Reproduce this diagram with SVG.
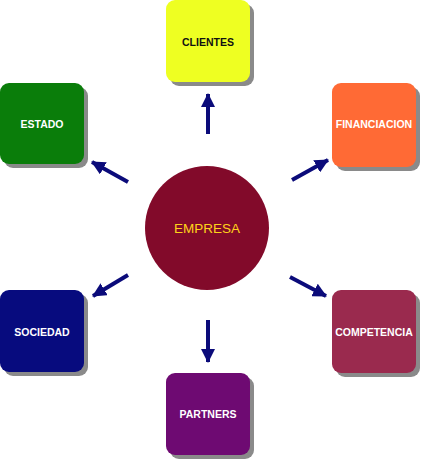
<svg xmlns="http://www.w3.org/2000/svg" width="421" height="460" viewBox="0 0 421 460">
<style>
.shadow{fill:#8a8a8a}
.lbl{font-family:"Liberation Sans",Arial,sans-serif;font-weight:bold;font-size:10.5px;text-anchor:middle;dominant-baseline:central;fill:#ffffff}
.conn line{stroke:#0b0b7a;stroke-width:4;marker-end:url(#ah)}
</style>
<defs>
<marker id="ah" markerUnits="userSpaceOnUse" markerWidth="14" markerHeight="14" refX="13" refY="7" orient="auto">
<path d="M0,0 L14,7 L0,14 Z" fill="#0b0b7a"/>
</marker>
</defs>
<rect width="421" height="460" fill="#ffffff"/>
<g id="clientes">
<rect class="shadow" x="170" y="4" width="84" height="82" rx="9"/>
<rect x="166" y="0" width="84" height="82" rx="9" fill="#eeff22"/>
<text class="lbl" x="208" y="42" fill="#111111" style="fill:#111111">CLIENTES</text>
</g>
<g id="estado">
<rect class="shadow" x="4" y="87" width="84" height="81" rx="9"/>
<rect x="0" y="83" width="84" height="81" rx="9" fill="#0a7d0a"/>
<text class="lbl" x="42" y="124">ESTADO</text>
</g>
<g id="financiacion">
<rect class="shadow" x="336" y="87" width="84" height="84" rx="9"/>
<rect x="332" y="83" width="84" height="84" rx="9" fill="#ff6a35"/>
<text class="lbl" x="374" y="124">FINANCIACION</text>
</g>
<g id="empresa">
<circle cx="207" cy="228" r="62" fill="#820a2a"/>
<text x="207" y="228" font-family="Liberation Sans,Arial,sans-serif" font-size="13.5" text-anchor="middle" dominant-baseline="central" fill="#ffd21a">EMPRESA</text>
</g>
<g id="sociedad">
<rect class="shadow" x="4" y="294" width="84" height="82" rx="9"/>
<rect x="0" y="290" width="84" height="82" rx="9" fill="#070b7e"/>
<text class="lbl" x="42" y="332">SOCIEDAD</text>
</g>
<g id="competencia">
<rect class="shadow" x="336" y="294" width="84" height="83" rx="9"/>
<rect x="332" y="290" width="84" height="83" rx="9" fill="#9a2a4e"/>
<text class="lbl" x="374" y="332">COMPETENCIA</text>
</g>
<g id="partners">
<rect class="shadow" x="170" y="377" width="84" height="82" rx="9"/>
<rect x="166" y="373" width="84" height="82" rx="9" fill="#6e0a72"/>
<text class="lbl" x="208" y="414">PARTNERS</text>
</g>
<g class="conn" id="connectors">
<line x1="208" y1="134" x2="208" y2="94"/>
<line x1="128" y1="182" x2="92" y2="162"/>
<line x1="292" y1="180" x2="328" y2="160"/>
<line x1="128" y1="275" x2="93" y2="296"/>
<line x1="290" y1="277" x2="326" y2="296"/>
<line x1="208" y1="320" x2="208" y2="362"/>
</g>
</svg>
